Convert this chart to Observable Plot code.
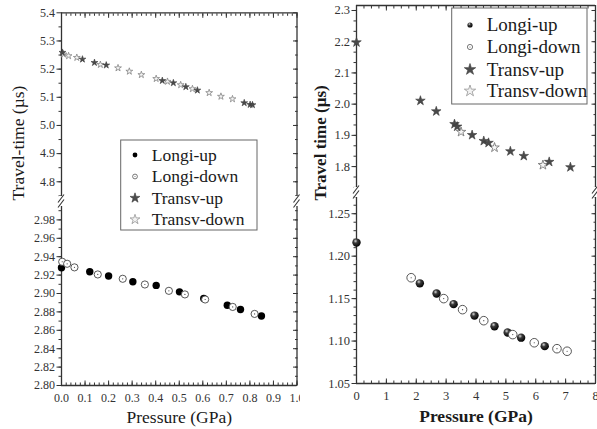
<!DOCTYPE html>
<html><head><meta charset="utf-8">
<script src="https://cdn.jsdelivr.net/npm/d3@7"></script>
<script src="https://cdn.jsdelivr.net/npm/@observablehq/plot@0.6"></script>
<style>
body{margin:0;background:#fff;}
#wrap{position:relative;width:597px;height:429px;overflow:hidden;background:#fff;}
.pane{position:absolute;top:0;height:429px;overflow:hidden;}
#left{left:0;width:300px;}
#right{left:298px;width:299px;}
.seg{position:absolute;left:0;}
.seg svg{overflow:visible;display:block;}
#overlay{position:absolute;left:0;top:0;pointer-events:none;}
</style></head><body><div id="wrap">
<div id="left" class="pane"><div id="lu" class="seg" style="top:0"></div><div id="ll" class="seg" style="top:201px"></div></div>
<div id="right" class="pane"><div id="ru" class="seg" style="top:0"></div><div id="rl" class="seg" style="top:192px"></div></div>
</div>
<script>
// ---------- data: left panel (pressure GPa, travel time µs) ----------
const lLongiUpP   = [0.00, 0.12, 0.20, 0.303, 0.402, 0.501, 0.604, 0.704, 0.76, 0.849];
const lLongiUpT   = [2.928, 2.9236, 2.919, 2.9127, 2.9088, 2.9018, 2.8946, 2.8873, 2.8826, 2.8756];
const lLongiDownP = [0.003, 0.024, 0.055, 0.154, 0.26, 0.354, 0.456, 0.524, 0.61, 0.727, 0.82];
const lLongiDownT = [2.9345, 2.9323, 2.9284, 2.9207, 2.916, 2.9098, 2.9029, 2.899, 2.8935, 2.8854, 2.8778];
const lTransvUpP  = [0.004, 0.089, 0.14, 0.19, 0.428, 0.475, 0.528, 0.577, 0.776, 0.801, 0.811];
const lTransvUpT  = [5.259, 5.235, 5.223, 5.214, 5.159, 5.151, 5.137, 5.125, 5.080, 5.074, 5.073];
const lTransvDownP = [0.0085, 0.03, 0.065, 0.165, 0.24, 0.288, 0.339, 0.402, 0.45, 0.506, 0.556, 0.627, 0.677, 0.726];
const lTransvDownT = [5.253, 5.247, 5.241, 5.216, 5.204, 5.192, 5.180, 5.166, 5.156, 5.144, 5.130, 5.116, 5.103, 5.094];
// ---------- data: right panel ----------
const rLongiUpP   = [0.0, 2.12, 2.68, 3.25, 3.95, 4.62, 5.06, 5.51, 6.30];
const rLongiUpT   = [1.216, 1.168, 1.156, 1.1435, 1.130, 1.1175, 1.110, 1.104, 1.094];
const rLongiDownP = [1.83, 2.92, 3.55, 4.26, 5.23, 5.95, 6.71, 7.05];
const rLongiDownT = [1.1746, 1.150, 1.137, 1.124, 1.1076, 1.098, 1.091, 1.088];
const rTransvUpP  = [0.0, 2.14, 2.67, 3.28, 3.37, 3.87, 4.26, 4.42, 5.15, 5.60, 6.45, 7.16];
const rTransvUpT  = [2.198, 2.011, 1.977, 1.936, 1.928, 1.901, 1.882, 1.876, 1.849, 1.834, 1.815, 1.798];
const rTransvDownP = [3.50, 4.62, 6.24];
const rTransvDownT = [1.911, 1.861, 1.805];
// ---------- axes: domains, ticks & labels ----------
const leftXDomain = [0, 1], rightXDomain = [0, 8];
const leftUpperDomain = [4.73, 5.40], leftLowerDomain = [2.80, 3.00];
const rightUpperDomain = [1.717, 2.316], rightLowerDomain = [1.05, 1.275];
const leftXTicks = [0, 0.1, 0.2, 0.3, 0.4, 0.5, 0.6, 0.7, 0.8, 0.9, 1.0];
const leftYTicksLow = [2.80, 2.82, 2.84, 2.86, 2.88, 2.90, 2.92, 2.94, 2.96, 2.98];
const leftYTicksHigh = [4.8, 4.9, 5.0, 5.1, 5.2, 5.3, 5.4];
const rightXTicks = [0, 1, 2, 3, 4, 5, 6, 7, 8];
const rightYTicksLow = [1.05, 1.10, 1.15, 1.20, 1.25];
const rightYTicksHigh = [1.8, 1.9, 2.0, 2.1, 2.2, 2.3];
const legendLabels = ["Longi-up", "Longi-down", "Transv-up", "Transv-down"];
const leftXTitle = "Pressure (GPa)", leftYTitle = "Travel-time (µs)";
const rightXTitle = "Pressure (GPa)", rightYTitle = "Travel time (µs)";

const FONT = "'Liberation Serif','Times New Roman',serif";
const AX = "#333";
const pts = (P, T) => P.map((p, i) => ({p, t: T[i]}));
const rng = (a, b, s) => d3.range(Math.round(a / s), Math.round(b / s) + 1).map(k => +(k * s).toFixed(5));
const none = () => "";

function segment(o) {
  const marks = [
    Plot.ruleX(o.xDomain, {stroke: AX, strokeWidth: 1.3}),
    Plot.axisY({ticks: o.yTicks, anchor: "left", tickSize: 4.5, tickPadding: 2, tickFormat: o.yFmt, label: null, fontSize: o.fs, stroke: AX}),
    Plot.axisY({ticks: o.yMinor, anchor: "left", tickSize: 2.5, tickFormat: none, label: null, stroke: AX}),
    Plot.axisY({ticks: o.yTicks, anchor: "right", tickSize: -4.5, tickFormat: none, label: null, stroke: AX}),
    Plot.axisY({ticks: o.yMinor, anchor: "right", tickSize: -2.5, tickFormat: none, label: null, stroke: AX})
  ];
  if (o.top) marks.push(
    Plot.ruleY([o.yDomain[1]], {stroke: AX, strokeWidth: 1.3}),
    Plot.axisX({ticks: o.xTicks, anchor: "top", tickSize: -4.5, tickFormat: none, label: null, stroke: AX}),
    Plot.axisX({ticks: o.xMinor, anchor: "top", tickSize: -2.5, tickFormat: none, label: null, stroke: AX}));
  if (o.bottom) marks.push(
    Plot.ruleY([o.yDomain[0]], {stroke: AX, strokeWidth: 1.3}),
    Plot.axisX({ticks: o.xTicks, anchor: "bottom", tickSize: -4.5, tickPadding: 12, tickFormat: o.xFmt, label: null, fontSize: o.fs, stroke: AX}),
    Plot.axisX({ticks: o.xMinor, anchor: "bottom", tickSize: -2.5, tickFormat: none, label: null, stroke: AX}));
  return Plot.plot({
    width: o.width, height: o.height,
    marginLeft: o.ml, marginRight: o.mr, marginTop: o.mt, marginBottom: o.mb,
    style: {fontFamily: FONT, fontSize: o.fs + "px", color: AX, background: "transparent", overflow: "visible"},
    x: {domain: o.xDomain},
    y: {domain: o.yDomain},
    marks: marks.concat(o.marks)
  });
}

// ---------------- LEFT PANEL ----------------
const LU = segment({
  width: 300, height: 201, ml: 61, mr: 3.5, mt: 12.3, mb: 0, fs: 12, top: true,
  xDomain: leftXDomain, xTicks: leftXTicks, xMinor: rng(0, 1, 0.02),
  yDomain: leftUpperDomain, yTicks: leftYTicksHigh, yMinor: rng(4.75, 5.35, 0.05), yFmt: d3.format(".1f"),
  marks: [
    Plot.dot(pts(lTransvDownP, lTransvDownT), {x: "p", y: "t", symbol: "star", r: 2.15, fill: "#f4f4f4", stroke: "#858585", strokeWidth: 0.8}),
    Plot.dot(pts(lTransvUpP, lTransvUpT), {x: "p", y: "t", symbol: "star", r: 2.15, fill: "#4a4a4a", stroke: "#3a3a3a", strokeWidth: 0.6})
  ]
});
const LL = segment({
  width: 300, height: 228, ml: 61, mr: 3.5, mt: 0, mb: 44, fs: 12, bottom: true,
  xDomain: leftXDomain, xTicks: leftXTicks, xMinor: rng(0, 1, 0.02), xFmt: d3.format(".1f"),
  yDomain: leftLowerDomain, yTicks: leftYTicksLow, yMinor: rng(2.81, 2.99, 0.01), yFmt: d3.format(".2f"),
  marks: [
    Plot.dot(pts(lLongiUpP, lLongiUpT), {x: "p", y: "t", r: 3.7, fill: "black"}),
    Plot.dot(pts(lLongiDownP, lLongiDownT), {x: "p", y: "t", r: 3.6, fill: "white", stroke: "#444", strokeWidth: 0.9}),
    Plot.dot(pts(lLongiDownP, lLongiDownT), {x: "p", y: "t", r: 0.6, fill: "#444"}),
    Plot.text([leftXTitle], {frameAnchor: "bottom", dy: 31.5, fontSize: 17.5, fill: "#1a1a1a", lineAnchor: "middle"}),
    Plot.text([leftYTitle], {frameAnchor: "top-left", dx: -43.5, dy: -1, rotate: -90, fontSize: 17.5, fill: "#1a1a1a", lineAnchor: "middle"})
  ]
});
document.getElementById("lu").appendChild(LU);
document.getElementById("ll").appendChild(LL);

// ---------------- RIGHT PANEL ----------------
const RU = segment({
  width: 299, height: 192, ml: 58, mr: 2, mt: 5, mb: 0, fs: 12.5, top: true,
  xDomain: rightXDomain, xTicks: rightXTicks, xMinor: rng(0, 8, 0.25),
  yDomain: rightUpperDomain, yTicks: rightYTicksHigh,
  yMinor: d3.range(0, 18).map(k => +(1.7333 + k / 30).toFixed(4)).filter(v => v < 2.31), yFmt: d3.format(".1f"),
  marks: [
    Plot.dot(pts(rTransvDownP, rTransvDownT), {x: "p", y: "t", symbol: "star", r: 3.0, fill: "#f6f6f6", stroke: "#7a7a7a", strokeWidth: 0.9}),
    Plot.dot(pts(rTransvUpP, rTransvUpT), {x: "p", y: "t", symbol: "star", r: 3.0, fill: "#4a4a4a", stroke: "#3a3a3a", strokeWidth: 0.6})
  ]
});
const RL = segment({
  width: 299, height: 237, ml: 58, mr: 2, mt: 0, mb: 46, fs: 12.5, bottom: true,
  xDomain: rightXDomain, xTicks: rightXTicks, xMinor: rng(0, 8, 0.25), xFmt: d3.format("d"),
  yDomain: rightLowerDomain, yTicks: rightYTicksLow, yMinor: rng(1.06, 1.27, 0.01), yFmt: d3.format(".2f"),
  marks: [
    Plot.dot(pts(rLongiUpP, rLongiUpT), {x: "p", y: "t", r: 4.2, fill: "#000001"}),
    Plot.dot(pts(rLongiDownP, rLongiDownT), {x: "p", y: "t", r: 4.3, fill: "white", stroke: "#444", strokeWidth: 0.9}),
    Plot.dot(pts(rLongiDownP, rLongiDownT), {x: "p", y: "t", r: 0.6, fill: "#444"}),
    Plot.text([rightXTitle], {frameAnchor: "bottom", dy: 32.5, fontSize: 17.5, fontWeight: "bold", fill: "#1a1a1a", lineAnchor: "middle"}),
    Plot.text([rightYTitle], {frameAnchor: "top-left", dx: -36, dy: 8, rotate: -90, fontSize: 17, fontWeight: "bold", fill: "#1a1a1a", lineAnchor: "middle"})
  ]
});
// sphere shading for the "Longi-up" balls (style only)
const defs = d3.select(RL).insert("defs", ":first-child");
const grad = defs.append("radialGradient").attr("id", "sph").attr("cx", 0.38).attr("cy", 0.32).attr("r", 0.7);
grad.append("stop").attr("offset", 0).attr("stop-color", "#d8d8d8");
grad.append("stop").attr("offset", 0.35).attr("stop-color", "#3a3a3a");
grad.append("stop").attr("offset", 1).attr("stop-color", "#000");
d3.select(RL).selectAll('g[fill="#000001"]').attr("fill", "url(#sph)");
document.getElementById("ru").appendChild(RU);
document.getElementById("rl").appendChild(RL);

// ---------------- overlay: axis breaks and legends ----------------
const ov = d3.select("#wrap").append("svg").attr("id", "overlay").attr("width", 597).attr("height", 429);
function axisBreak(x, y) {
  ov.append("rect").attr("x", x - 2.5).attr("y", y - 5).attr("width", 5).attr("height", 10).attr("fill", "white");
  for (const o of [-2.5, 2.5]) {
    ov.append("line").attr("x1", x - 3).attr("y1", y + o + 4).attr("x2", x + 3).attr("y2", y + o - 4)
      .attr("stroke", AX).attr("stroke-width", 1.1);
  }
}
axisBreak(61, 201); axisBreak(296.5, 201);
axisBreak(356, 192); axisBreak(595, 192);

function legend(box, rows, symX, textX, fs, sym) {
  const g = ov.append("g");
  g.append("rect").attr("x", box.x).attr("y", box.y).attr("width", box.w).attr("height", box.h)
    .attr("fill", "white").attr("stroke", "#666").attr("stroke-width", 1);
  legendLabels.forEach((lab, i) => {
    const cy = rows[i];
    if (i === 0) g.append("circle").attr("cx", symX).attr("cy", cy).attr("r", sym.r).attr("fill", sym.sphere ? "url(#sph)" : "black");
    if (i === 1) {
      g.append("circle").attr("cx", symX).attr("cy", cy).attr("r", sym.r).attr("fill", "white").attr("stroke", "#555").attr("stroke-width", 0.8);
      g.append("circle").attr("cx", symX).attr("cy", cy).attr("r", 0.5).attr("fill", "#555");
    }
    if (i >= 2) {
      g.append("path").attr("d", d3.symbol(d3.symbolStar, sym.star)()).attr("transform", `translate(${symX},${cy})`)
        .attr("fill", i === 2 ? "#4d4d4d" : "#f2f2f2").attr("stroke", i === 2 ? "#444" : "#888").attr("stroke-width", 0.7);
    }
    g.append("text").attr("x", textX).attr("y", cy).attr("dy", "0.34em").attr("font-size", fs)
      .attr("text-anchor", "start").attr("font-family", FONT).attr("fill", "#1a1a1a").text(lab);
  });
}
legend({x: 120.7, y: 140, w: 136.3, h: 90}, [155, 176.5, 198, 219.5], 135, 151.7, 17.5, {r: 2.4, star: 30});
legend({x: 451.7, y: 8, w: 135.3, h: 96}, [25, 47, 69.5, 91], 470, 486.7, 19, {r: 2.6, sphere: true, star: 40});
</script>
</body></html>
